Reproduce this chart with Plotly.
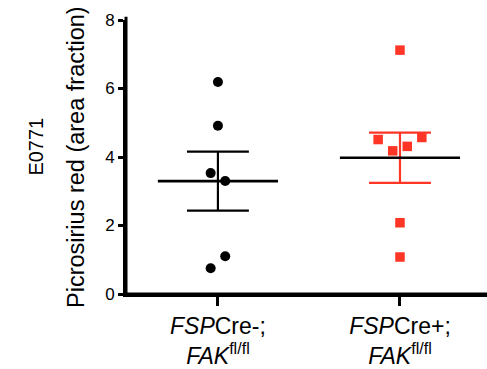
import numpy as np
import plotly.graph_objects as go

# ---- data ----
categories = ["<i>FSP</i>Cre-;<br><i>FAK</i><sup>fl/fl</sup>",
              "<i>FSP</i>Cre+;<br><i>FAK</i><sup>fl/fl</sup>"]
cre_neg_values = [6.19, 4.91, 3.53, 3.30, 1.10, 0.75]
cre_neg_jitter = [0.0, 0.0, -0.04, 0.04, 0.04, -0.04]
cre_pos_values = [7.12, 4.57, 4.51, 4.31, 4.18, 2.08, 1.08]
cre_pos_jitter = [0.0, 0.12, -0.12, 0.04, -0.04, 0.0, 0.0]
y_ticks = [0, 2, 4, 6, 8]

RED = "#FF3526"
FONT = "Liberation Sans, Arial, sans-serif"

fig = go.Figure()

groups = [
    (0, cre_neg_values, cre_neg_jitter, "black", "circle", "black"),
    (1, cre_pos_values, cre_pos_jitter, RED, "square", RED),
]

for xc, vals, jit, col, sym, errcol in groups:
    v = np.array(vals)
    mean = v.mean()
    sem = v.std(ddof=1) / np.sqrt(len(v))
    fig.add_trace(go.Scatter(x=[xc, xc], y=[mean - sem, mean + sem], mode="lines",
                             line=dict(color=errcol, width=2.2), showlegend=False, hoverinfo="skip"))
    for yy in (mean - sem, mean + sem):
        fig.add_trace(go.Scatter(x=[xc - 0.17, xc + 0.17], y=[yy, yy], mode="lines",
                                 line=dict(color=errcol, width=2.2), showlegend=False, hoverinfo="skip"))
    fig.add_trace(go.Scatter(x=[xc + j for j in jit], y=vals, mode="markers",
                             marker=dict(color=col, symbol=sym, size=10 if sym == "circle" else 9.5,
                                         line=dict(width=0)),
                             showlegend=False))
    fig.add_trace(go.Scatter(x=[xc - 0.33, xc + 0.33], y=[mean, mean], mode="lines",
                             line=dict(color="black", width=2.6), showlegend=False, hoverinfo="skip"))

fig.update_layout(
    width=487, height=369,
    margin=dict(l=126, r=0, t=20, b=75),
    paper_bgcolor="white", plot_bgcolor="white",
    font=dict(family=FONT, color="black"),
    xaxis=dict(range=[-0.505, 1.478], tickvals=[0, 1], ticktext=categories,
               showline=True, linecolor="#000000", linewidth=3,
               ticks="outside", ticklen=9, tickwidth=3, tickcolor="#000000",
               showgrid=False, zeroline=False, tickfont=dict(size=23, family=FONT, color="black")),
    yaxis=dict(range=[0, 8], tickvals=y_ticks,
               showline=True, linecolor="#000000", linewidth=3,
               ticks="outside", ticklen=5, tickwidth=2.5, tickcolor="#000000",
               showgrid=False, zeroline=False, tickfont=dict(size=17, family=FONT, color="black"),
               ticklabelstandoff=0),
    shapes=[
        dict(type="line", xref="paper", yref="paper", x0=0, x1=0, y0=-0.006, y1=1.012,
             line=dict(color="black", width=3), layer="above"),
        dict(type="line", xref="paper", yref="paper", x0=-0.004, x1=1, y0=0, y1=0,
             line=dict(color="black", width=3), layer="above"),
    ],
    annotations=[
        dict(text="Picrosirius red (area fraction)", textangle=-90, xref="paper", yref="paper",
             x=(76 - 126) / 361, y=0.5, xanchor="center", yanchor="middle", showarrow=False,
             font=dict(size=23.5, family=FONT, color="black")),
        dict(text="E0771", textangle=-90, xref="paper", yref="paper",
             x=(36 - 126) / 361, y=0.538, xanchor="center", yanchor="middle", showarrow=False,
             font=dict(size=20, family=FONT, color="black")),
    ],
)

fig.write_html("out.html")
